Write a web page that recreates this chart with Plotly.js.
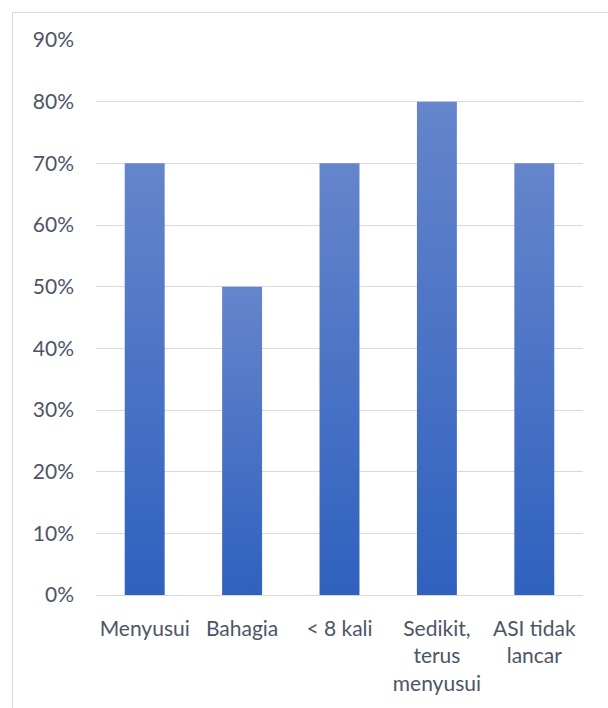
<!DOCTYPE html>
<html>
<head>
<meta charset="utf-8">
<script src="https://cdn.plot.ly/plotly-3.0.1.min.js"></script>
<style>
  html, body { margin: 0; padding: 0; background: #fff; overflow: hidden; }
  #frame { position: absolute; left: 12px; top: 12px; width: 640px; height: 740px; border: 1px solid #d9d9d9; box-sizing: border-box; }
  #chart { position: absolute; left: 0; top: 0; width: 608px; height: 708px; }
</style>
</head>
<body>
<div id="frame"></div>
<div id="chart"></div>
<script>
const categories = ["Menyusui", "Bahagia", "< 8 kali", "Sedikit,<br>terus<br>menyusui", "ASI tidak<br>lancar"];
const values = [0.70, 0.50, 0.70, 0.80, 0.70];
const yTickVals = [0, 0.1, 0.2, 0.3, 0.4, 0.5, 0.6, 0.7, 0.8, 0.9];
const yTickText = ["0%", "10%", "20%", "30%", "40%", "50%", "60%", "70%", "80%", "90%"];

const trace = {
  type: "bar",
  x: categories,
  y: values,
  marker: { color: "#4472c4", line: { width: 0 } },
  hoverinfo: "none"
};

const textColor = "#4d5566";

const layout = {
  width: 608,
  height: 708,
  margin: { l: 96, r: 25, t: 40, b: 113 },
  paper_bgcolor: "rgba(0,0,0,0)",
  plot_bgcolor: "rgba(0,0,0,0)",
  showlegend: false,
  bargap: 0.59,
  font: { family: "Lato, 'Open Sans', sans-serif", size: 21, color: textColor },
  xaxis: {
    type: "category",
    showgrid: false,
    showline: false,
    zeroline: false,
    ticks: "",
    tickangle: 0,
    ticklabelstandoff: 19,
    tickfont: { size: 21, color: textColor }
  },
  yaxis: {
    range: [0, 0.9],
    tickvals: yTickVals,
    ticktext: yTickText,
    showgrid: true,
    gridcolor: "#d9d9d9",
    gridwidth: 1,
    zeroline: true,
    zerolinecolor: "#d9d9d9",
    zerolinewidth: 1,
    showline: false,
    ticks: "",
    ticklabelstandoff: 21,
    tickfont: { size: 21, color: textColor }
  }
};

Plotly.newPlot("chart", [trace], layout, { staticPlot: true, displayModeBar: false }).then(function (gd) {
  const svg = gd.querySelector("svg.main-svg");
  const ns = "http://www.w3.org/2000/svg";
  let defs = svg.querySelector("defs");
  if (!defs) { defs = document.createElementNS(ns, "defs"); svg.insertBefore(defs, svg.firstChild); }
  const grad = document.createElementNS(ns, "linearGradient");
  grad.setAttribute("id", "barGrad");
  grad.setAttribute("x1", "0"); grad.setAttribute("y1", "0");
  grad.setAttribute("x2", "0"); grad.setAttribute("y2", "1");
  const s1 = document.createElementNS(ns, "stop");
  s1.setAttribute("offset", "0"); s1.setAttribute("stop-color", "#6585cc");
  const s2 = document.createElementNS(ns, "stop");
  s2.setAttribute("offset", "1"); s2.setAttribute("stop-color", "#2f61be");
  grad.appendChild(s1); grad.appendChild(s2);
  defs.appendChild(grad);
  gd.querySelectorAll(".bars .point path").forEach(function (p) {
    p.style.fill = "url(#barGrad)";
  });
});
</script>
</body>
</html>
